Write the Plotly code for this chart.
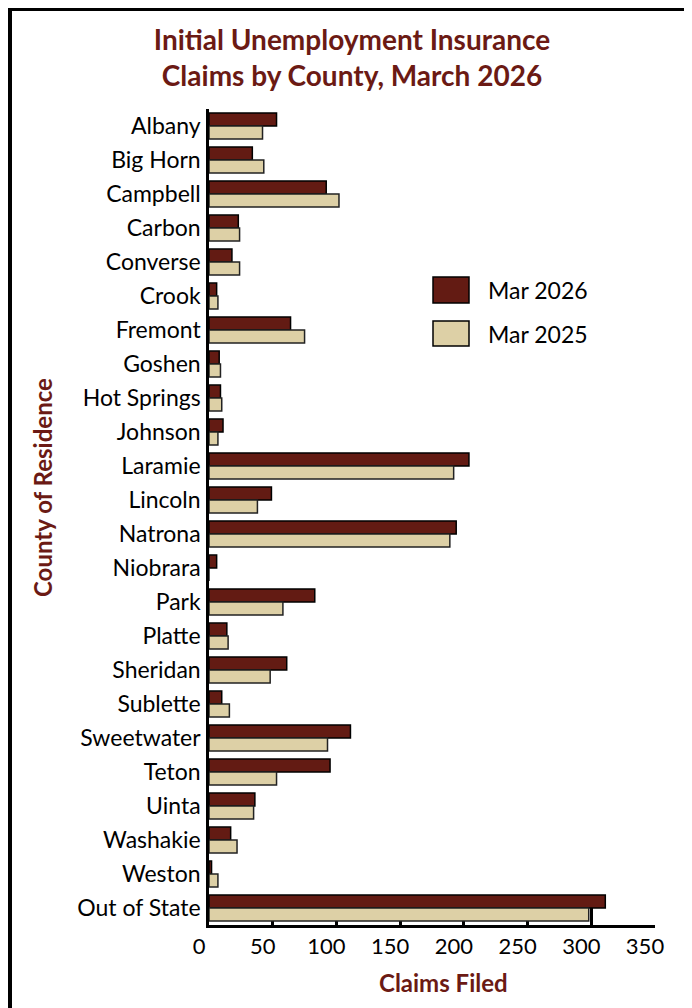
import plotly.graph_objects as go

counties = ["Albany", "Big Horn", "Campbell", "Carbon", "Converse", "Crook", "Fremont",
            "Goshen", "Hot Springs", "Johnson", "Laramie", "Lincoln", "Natrona", "Niobrara",
            "Park", "Platte", "Sheridan", "Sublette", "Sweetwater", "Teton", "Uinta",
            "Washakie", "Weston", "Out of State"]
mar_2026 = [53, 34, 92, 23, 18, 6, 64, 8, 9, 11, 204, 49, 194, 6, 83, 14, 61, 10, 111, 95, 36, 17, 2, 311]
mar_2025 = [42, 43, 102, 24, 24, 7, 75, 9, 10, 7, 192, 38, 189, 0, 58, 15, 48, 16, 93, 53, 35, 22, 7, 298]
x_ticks = [0, 50, 100, 150, 200, 250, 300, 350]

# page offset caused by default body margin
OFF = 8
PAGE_W, PAGE_H = 692, 1008
W, H = PAGE_W - OFF, PAGE_H - OFF
# plot area in page pixels
L, R, T, B = 209, 655, 109, 925

def px(x):
    return (x - L) / (R - L)

def py(y):
    return (B - y) / (B - T)

DARK = "#631b13"
BEIGE = "#ddd0a6"
TITLE_C = "#6b1a14"
FONT = "Lato"

fig = go.Figure()
fig.add_trace(go.Bar(y=counties, x=mar_2026, orientation="h", name="Mar 2026",
                     marker=dict(color=DARK, line=dict(color="black", width=1.5))))
fig.add_trace(go.Bar(y=counties, x=mar_2025, orientation="h", name="Mar 2025",
                     marker=dict(color=BEIGE, line=dict(color="#222", width=1.5))))

fig.update_layout(
    width=W, height=H, autosize=False,
    margin=dict(l=L - OFF, r=PAGE_W - R, t=T - OFF, b=PAGE_H - B),
    paper_bgcolor="white", plot_bgcolor="white",
    barmode="group", bargap=0.24, bargroupgap=0,
    showlegend=False,
    font=dict(family=FONT, color="black"),
    title=dict(text="Initial Unemployment Insurance<br>Claims by County, March 2026",
               xref="paper", x=px(352), xanchor="center",
               yref="container", y=1 - (50 - OFF) / H, yanchor="middle",
               font=dict(family=FONT, size=28, color=TITLE_C, weight="bold")),
)
fig.update_xaxes(range=[0, 350], tickvals=x_ticks, ticktext=[str(v) for v in x_ticks],
                 showgrid=False, zeroline=False,
                 showline=True, linecolor="black", linewidth=2.5,
                 ticks="inside", ticklen=20, tickwidth=2.5, tickcolor="black",
                 layer="below traces", ticklabelshift=-10,
                 tickfont=dict(family=FONT, size=22, color="black"))
fig.update_yaxes(categoryorder="array", categoryarray=counties, autorange="reversed",
                 showgrid=False, zeroline=False,
                 showline=True, linecolor="black", linewidth=2.5,
                 ticks="", ticklabelstandoff=1,
                 tickfont=dict(family=FONT, size=23, color="black"))

# axis titles
fig.add_annotation(text="<b>County of Residence</b>", xref="paper", yref="paper",
                   x=px(42), y=py(488), textangle=-90, showarrow=False,
                   xanchor="center", yanchor="middle",
                   font=dict(family=FONT, size=24, color=TITLE_C))
fig.add_annotation(text="<b>Claims Filed</b>", xref="paper", yref="paper",
                   x=px(443), y=py(982), showarrow=False,
                   xanchor="center", yanchor="middle",
                   font=dict(family=FONT, size=24, color=TITLE_C))

# custom legend
legend_items = [("Mar 2026", DARK, 277, 303), ("Mar 2025", BEIGE, 321, 346)]
for name, col, y0, y1 in legend_items:
    fig.add_shape(type="rect", xref="paper", yref="paper",
                  x0=px(433), x1=px(469), y0=py(y1), y1=py(y0),
                  fillcolor=col, line=dict(color="black", width=1.5))
    fig.add_annotation(text=name, xref="paper", yref="paper",
                       x=px(486), y=py((y0 + y1) / 2), xanchor="left", yanchor="middle",
                       showarrow=False, font=dict(family=FONT, size=23, color="black"))

# frame lines (top and left border)
fig.add_shape(type="line", xref="paper", yref="paper", x0=px(OFF), x1=px(PAGE_W + 5),
              y0=py(9.5), y1=py(9.5), line=dict(color="black", width=3))
fig.add_shape(type="line", xref="paper", yref="paper", x0=px(10), x1=px(10),
              y0=py(8), y1=py(PAGE_H + 5), line=dict(color="black", width=4))

fig.write_html("out.html")
